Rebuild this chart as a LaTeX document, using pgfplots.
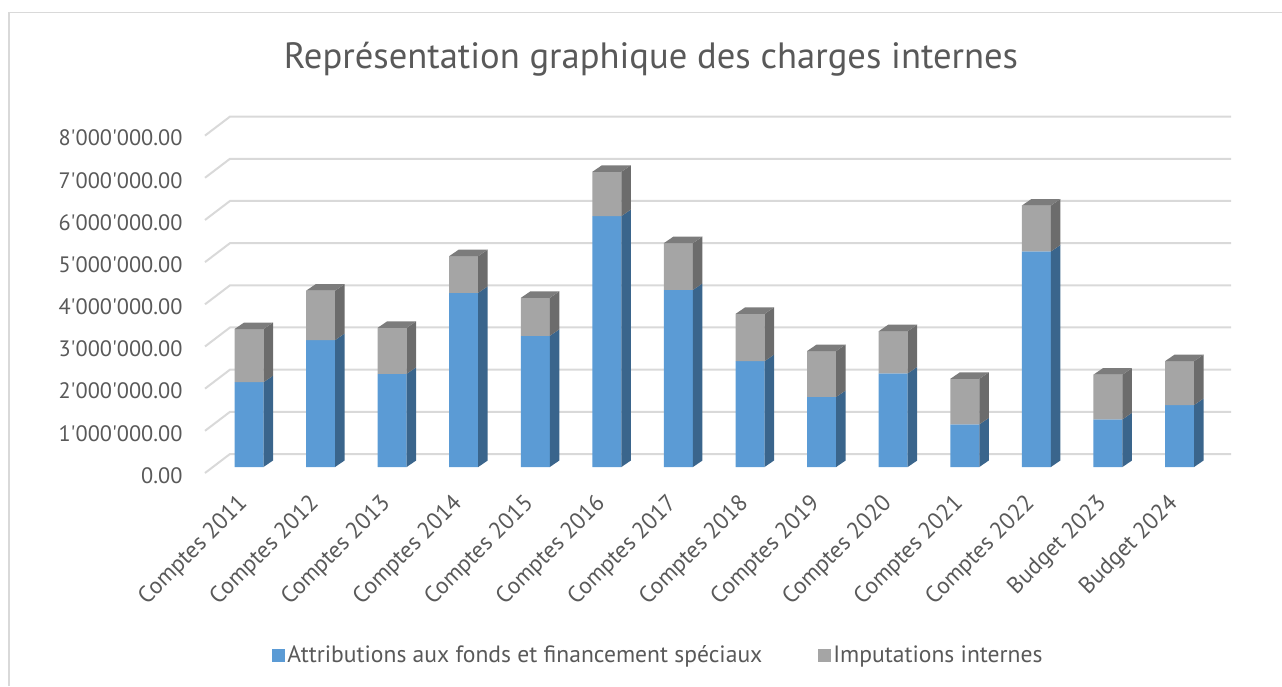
\documentclass[border=0pt]{standalone}
\usepackage{fontspec}
\usepackage{pgfplots}
\usepackage{pgfplotstable}
\pgfplotsset{compat=1.18}
\newfontfamily\chartfont{PT Sans}
\definecolor{txt}{HTML}{595959}
\definecolor{gridc}{HTML}{D9D9D9}
\definecolor{blue1}{HTML}{5B9BD5}
\definecolor{blue2}{HTML}{3A658C}
\definecolor{gray1}{HTML}{A5A5A5}
\definecolor{gray2}{HTML}{6C6C6C}
\definecolor{gray3}{HTML}{7C7C7C}

% values in millions
\pgfplotstableread{
idx blue imput
0 2.01 1.26
1 3.01 1.17
2 2.21 1.09
3 4.13 0.87
4 3.11 0.90
5 5.95 1.05
6 4.20 1.11
7 2.51 1.12
8 1.66 1.09
9 2.22 1.00
10 1.01 1.08
11 5.11 1.09
12 1.13 1.06
13 1.47 1.04
}\charges

\begin{document}
\chartfont
\begin{tikzpicture}[x=1pt,y=1pt]
\path[use as bounding box] (0,0) rectangle (1282,686);
\draw[gridc, line width=1.5pt] (9,0) -- (9,673.5) -- (1282,673.5);
\begin{axis}[
  at={(205pt,219pt)},
  anchor=south west,
  scale only axis,
  width=1026pt,
  height=337.4pt,
  xmin=-0.6147, xmax=13.719,
  ymin=0, ymax=8,
  clip=false,
  axis line style={draw=none},
  major tick style={draw=none},
  ybar stacked,
  reverse stacked plots=false,
  bar width=29pt,
  xtick={0,...,13},
  xticklabels={Comptes 2011,Comptes 2012,Comptes 2013,Comptes 2014,Comptes 2015,Comptes 2016,Comptes 2017,Comptes 2018,Comptes 2019,Comptes 2020,Comptes 2021,Comptes 2022,Budget 2023,Budget 2024},
  xticklabel style={rotate=45, anchor=north east, font=\chartfont\fontsize{23.3}{26}\selectfont, text=txt, xshift=-23.7pt, yshift=-5.7pt},
  ytick={0,1,...,8},
  yticklabels={0.00,1'000'000.00,2'000'000.00,3'000'000.00,4'000'000.00,5'000'000.00,6'000'000.00,7'000'000.00,8'000'000.00},
  yticklabel style={font=\chartfont\fontsize{22.3}{25}\selectfont, text=txt, anchor=east, yshift=-8.5pt, xshift=-19pt},
  legend columns=2,
  legend cell align=left,
  legend style={draw=none, fill=none, at={(axis cs:5.72,-4.46)}, anchor=center, font=\chartfont\fontsize{23.6}{26}\selectfont, text=txt,
    /tikz/every even column/.append style={column sep=54pt}},
  legend image code/.code={\fill[#1] (0pt,-6.5pt) rectangle (13pt,6.5pt);},
]
% back wall and left wall grid lines
\pgfplotsinvokeforeach{0,1,...,8}{
  \draw[gridc, line width=2pt] (axis cs:-0.6147,#1) ++(0pt,-6pt) -- ++(25pt,19pt) -- ++(1001pt,0pt);
}
\addplot[fill=blue1, draw=none] table[x=idx,y=blue] {\charges};
\addlegendentry{Attributions aux fonds et financement spéciaux}
\addplot[fill=gray1, draw=none] table[x=idx,y=imput] {\charges};
\addlegendentry{Imputations internes}
% side and top faces, depth is a fixed offset on the page
\pgfplotsinvokeforeach{0,...,13}{
  \pgfplotstablegetelem{#1}{blue}\of\charges \edef\bv{\pgfplotsretval}
  \pgfplotstablegetelem{#1}{imput}\of\charges \edef\iv{\pgfplotsretval}
  \pgfmathsetmacro{\tv}{\bv+\iv}
  \edef\temp{
    \noexpand\fill[blue2] (axis cs:#1,0) ++(14.5pt,0pt) -- ++(9.5pt,6.5pt) -- ++(0pt,{\bv/8*337.4 pt}) -- ++(-9.5pt,-6.5pt) -- cycle;
    \noexpand\fill[gray2] (axis cs:#1,\bv) ++(14.5pt,0pt) -- ++(9.5pt,6.5pt) -- ++(0pt,{\iv/8*337.4 pt}) -- ++(-9.5pt,-6.5pt) -- cycle;
    \noexpand\fill[gray3] (axis cs:#1,\tv) ++(-14.5pt,0pt) -- ++(29pt,0pt) -- ++(9.5pt,6.5pt) -- ++(-29pt,0pt) -- cycle;
  }
  \temp
}
\end{axis}
\node[font=\chartfont\fontsize{36.6}{40}\selectfont, text=txt] at (651,627) {Représentation graphique des charges internes};
\end{tikzpicture}
\end{document}
